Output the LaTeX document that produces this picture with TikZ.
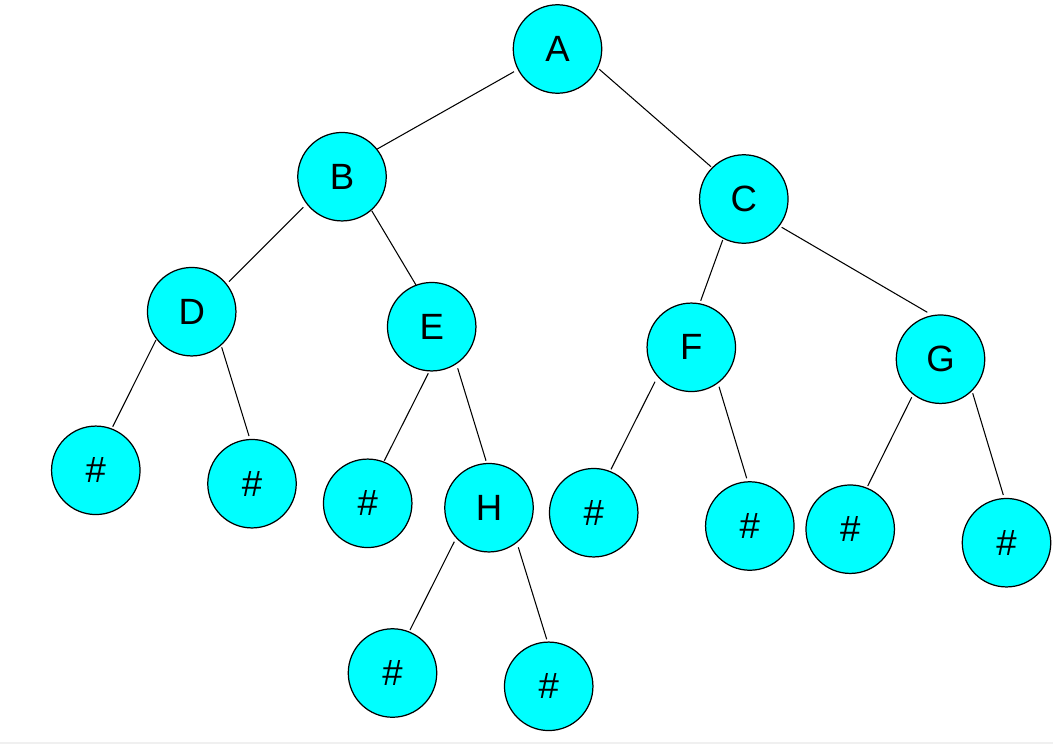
\documentclass[tikz,border=0pt]{standalone}
\usepackage{fontspec}
\setmainfont{Liberation Sans}
\usetikzlibrary{calc}
\begin{document}
\begin{tikzpicture}[x=0.02cm,y=-0.02cm,
  tnode/.style={circle,draw=black,line width=0.7pt,fill={rgb,255:red,0;green,255;blue,255},
    minimum size=1.77cm,inner sep=0pt,font=\fontsize{20.8}{24}\selectfont},
  edge/.style={draw=black,line width=0.6pt}]
\useasboundingbox (0,0) rectangle (1053,744);
\fill[black!6] (0,741.5) rectangle (1053,744);
\node[tnode] (A) at (557.5,49) {A};
\node[tnode] (B) at (342,176.7) {B};
\node[tnode] (C) at (743.8,199) {C};
\node[tnode] (D) at (191.7,311.7) {D};
\node[tnode] (E) at (431.7,326.7) {E};
\node[tnode] (F) at (691.3,347.3) {F};
\node[tnode] (G) at (940.5,359.2) {G};
\node[tnode] (d1) at (95.8,470.3) {\#};
\node[tnode] (d2) at (252,483.7) {\#};
\node[tnode] (e1) at (367.7,503.3) {\#};
\node[tnode] (H) at (489,507.7) {H};
\node[tnode] (f1) at (593.7,512.7) {\#};
\node[tnode] (f2) at (749.8,526) {\#};
\node[tnode] (g1) at (850.2,529.2) {\#};
\node[tnode] (g2) at (1006.5,542.7) {\#};
\node[tnode] (h1) at (392.5,673) {\#};
\node[tnode] (h2) at (548.7,686.3) {\#};
\path[edge] ($(A)+(-43.5,22.7)$) -- ($(B)+(34.7,-27.4)$);
\path[edge] ($(A)+(41.8,20.3)$) -- ($(C)+(-32.8,-32.3)$);
\path[edge] ($(B)+(-38.7,30.6)$) -- ($(D)+(37.3,-30)$);
\path[edge] ($(B)+(29.7,34)$) -- ($(E)+(-15.7,-41.7)$);
\path[edge] ($(C)+(-21.1,41)$) -- ($(F)+(9.4,-46.6)$);
\path[edge] ($(C)+(37.9,28.3)$) -- ($(G)+(-13.2,-46.9)$);
\path[edge] ($(D)+(-35.7,28.3)$) -- ($(d1)+(16.9,-43.6)$);
\path[edge] ($(D)+(30,35.6)$) -- ($(d2)+(-3,-47.7)$);
\path[edge] ($(E)+(-3.4,46.6)$) -- ($(e1)+(16.6,-42.6)$);
\path[edge] ($(E)+(26,41.6)$) -- ($(H)+(-3,-47)$);
\path[edge] ($(H)+(-34.7,34)$) -- ($(h1)+(17.5,-43)$);
\path[edge] ($(H)+(29.3,39.6)$) -- ($(h2)+(-2,-47)$);
\path[edge] ($(F)+(-36.3,34.4)$) -- ($(f1)+(17.3,-43.4)$);
\path[edge] ($(F)+(27.7,39.4)$) -- ($(f2)+(-3.1,-47.7)$);
\path[edge] ($(G)+(-28.8,38.1)$) -- ($(g1)+(17.5,-43.2)$);
\path[edge] ($(G)+(32.2,34.1)$) -- ($(g2)+(-3.2,-47.7)$);
\end{tikzpicture}
\end{document}
